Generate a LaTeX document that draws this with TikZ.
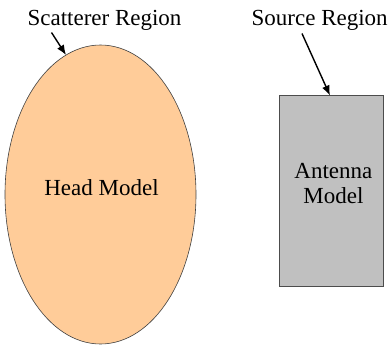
\documentclass[tikz,border=0pt]{standalone}
\usepackage{fontspec}
\setmainfont{Liberation Serif}
\usetikzlibrary{arrows.meta}
\definecolor{peach}{RGB}{255,204,153}
\definecolor{boxgray}{RGB}{192,192,192}
\begin{document}
\begin{tikzpicture}[x=1pt,y=-1pt,
  lbl/.style={font=\fontsize{23}{25}\selectfont, inner sep=0pt, anchor=base},
  pointer/.style={line width=1.4pt, -{Latex[length=10pt,width=8pt]}}]
\useasboundingbox (0,0) rectangle (389,346);
\draw[fill=peach, draw=black!75, line width=0.6pt] (100.5,194.5) ellipse [x radius=95.5, y radius=149.5];
\node[lbl] (head) at (101.5,195) {Head Model};
\node[draw=black!70, fill=boxgray, line width=0.8pt, minimum width=104pt, minimum height=191pt, inner sep=0pt] (ant) at (331,190.5) {};
\node[lbl] (antl) at (333.4,178.3) {Antenna};
\node[lbl] (antm) at (333.4,203.3) {Model};
\node[lbl] (scat) at (104.5,25) {Scatterer Region};
\node[lbl] (src) at (319.7,25) {Source Region};
\coordinate (s1) at (51.5,32.5);
\coordinate (s2) at (66,55);
\coordinate (r1) at (302,33.5);
\coordinate (r2) at (330,95.5);
\draw[pointer] (s1) -- (s2);
\draw[pointer] (r1) -- (r2);
\end{tikzpicture}
\end{document}
